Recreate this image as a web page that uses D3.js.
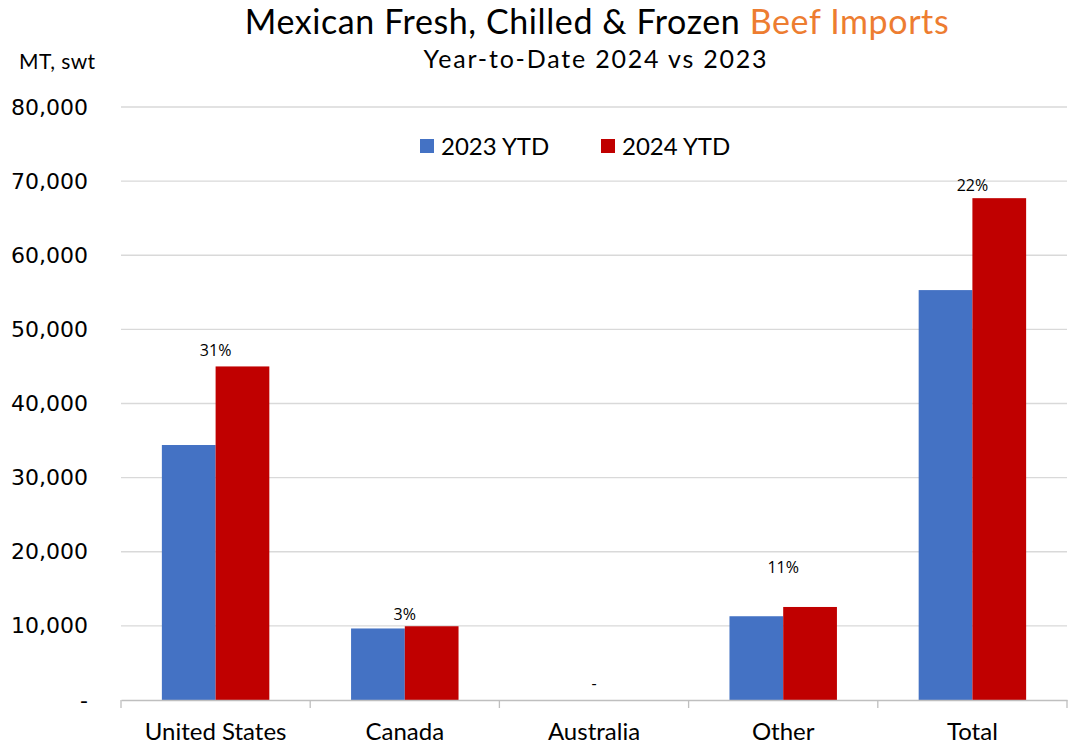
<!DOCTYPE html>
<html>
<head>
<meta charset="utf-8">
<script src="https://cdn.jsdelivr.net/npm/d3@7"></script>
<style>
  body { margin: 0; background: #fff; }
  text { fill: #000; }
</style>
</head>
<body>
<script>
// Chart data
var categories = ["United States", "Canada", "Australia", "Other", "Total"];
var seriesNames = ["2023 YTD", "2024 YTD"];
var ytd2023 = [34400, 9650, 0, 11300, 55300];
var ytd2024 = [45000, 9950, 0, 12550, 67700];
var changeLabels = ["31%", "3%", "-", "11%", "22%"];
// hidden label series (where the % labels sit)
var labelAnchor = [47200, 11600, 2300, 17900, 69400];
var yTicks = [0, 10000, 20000, 30000, 40000, 50000, 60000, 70000, 80000];

var colors = ["#4472C4", "#C00000"];

var width = 1070, height = 747;
var margin = {top: 107, right: 3, bottom: 47, left: 121};

var svg = d3.select("body").append("svg")
    .attr("width", width)
    .attr("height", height);

var x0 = d3.scaleBand()
    .domain(categories)
    .range([margin.left, width - margin.right])
    .padding(0);

var gap = x0.bandwidth() * 0.216;
var x1 = d3.scaleBand()
    .domain(seriesNames)
    .range([gap, x0.bandwidth() - gap])
    .padding(0);

var y = d3.scaleLinear()
    .domain([0, 80000])
    .range([height - margin.bottom, margin.top]);

// Gridlines
svg.append("g").selectAll("line")
    .data(yTicks.filter(function(d) { return d > 0; }))
    .enter().append("line")
    .attr("x1", margin.left)
    .attr("x2", width - margin.right)
    .attr("y1", function(d) { return y(d); })
    .attr("y2", function(d) { return y(d); })
    .attr("stroke", "#d9d9d9")
    .attr("stroke-width", 1.3);

// Y axis labels
var yAxis = d3.axisLeft(y)
    .tickValues(yTicks)
    .tickSize(0)
    .tickPadding(33)
    .tickFormat(function(d) { return d === 0 ? "-" : d3.format(",")(d); });

var gy = svg.append("g")
    .attr("transform", "translate(" + margin.left + ",0)")
    .call(yAxis);
gy.select(".domain").remove();
gy.selectAll("text")
    .attr("font-family", "DejaVu Sans")
    .attr("font-size", "22px")
    .attr("fill", "#000");

// Bars
var rows = categories.map(function(c, i) {
    return {cat: c, vals: [ytd2023[i], ytd2024[i]]};
});

var groups = svg.append("g").selectAll("g")
    .data(rows)
    .enter().append("g")
    .attr("transform", function(d) { return "translate(" + x0(d.cat) + ",0)"; });

groups.selectAll("rect")
    .data(function(d) {
        return d.vals.map(function(v, j) { return {key: seriesNames[j], value: v, j: j}; });
    })
    .enter().append("rect")
    .attr("x", function(d) { return x1(d.key); })
    .attr("width", x1.bandwidth())
    .attr("y", function(d) { return y(d.value); })
    .attr("height", function(d) { return y(0) - y(d.value); })
    .attr("fill", function(d) { return colors[d.j]; });

// X axis
var xAxis = d3.axisBottom(x0)
    .tickSize(0)
    .tickPadding(23);

var gx = svg.append("g")
    .attr("transform", "translate(0," + y(0) + ")")
    .call(xAxis);
gx.select(".domain").attr("stroke", "#bfbfbf").attr("stroke-width", 1.3);
gx.selectAll("text")
    .attr("font-family", "Lato")
    .attr("font-size", "24px")
    .attr("fill", "#000");

// category separator ticks
svg.append("g").selectAll("line")
    .data(categories.concat(["end"]))
    .enter().append("line")
    .attr("x1", function(d, i) { return margin.left + i * x0.step(); })
    .attr("x2", function(d, i) { return margin.left + i * x0.step(); })
    .attr("y1", y(0))
    .attr("y2", y(0) + 8)
    .attr("stroke", "#bfbfbf")
    .attr("stroke-width", 1.3);

// % change labels
svg.append("g").selectAll("text")
    .data(categories)
    .enter().append("text")
    .attr("x", function(d) { return x0(d) + x0.bandwidth() / 2; })
    .attr("y", function(d, i) { return y(labelAnchor[i]); })
    .attr("dy", "0.35em")
    .attr("text-anchor", "middle")
    .attr("font-family", "Open Sans")
    .attr("font-size", "16px")
    .text(function(d, i) { return changeLabels[i]; });

// Legend
var legend = svg.append("g").selectAll("g")
    .data(seriesNames)
    .enter().append("g")
    .attr("transform", function(d, i) { return "translate(" + (420 + i * 181) + ",146)"; });

legend.append("rect")
    .attr("x", 0)
    .attr("y", -7)
    .attr("width", 14)
    .attr("height", 14)
    .attr("fill", function(d, i) { return colors[i]; });

legend.append("text")
    .attr("x", 21)
    .attr("dy", "0.36em")
    .attr("font-family", "Lato")
    .attr("font-size", "24px")
    .text(function(d) { return d; });

// Titles
var title = svg.append("text")
    .attr("x", 597)
    .attr("y", 34)
    .attr("text-anchor", "middle")
    .attr("font-family", "Lato")
    .attr("font-size", "34px")
    .attr("letter-spacing", "0.6px");
title.append("tspan").text("Mexican Fresh, Chilled & Frozen ");
title.append("tspan").attr("fill", "#ED7D31").style("fill", "#ED7D31").text("Beef Imports");

svg.append("text")
    .attr("x", 596)
    .attr("y", 68)
    .attr("text-anchor", "middle")
    .attr("font-family", "Lato")
    .attr("font-size", "25px")
    .attr("letter-spacing", "1.8px")
    .text("Year-to-Date 2024 vs 2023");

svg.append("text")
    .attr("x", 19)
    .attr("y", 69)
    .attr("font-family", "Lato")
    .attr("font-size", "21px")
    .attr("letter-spacing", "0.4px")
    .text("MT, swt");
</script>
</body>
</html>
